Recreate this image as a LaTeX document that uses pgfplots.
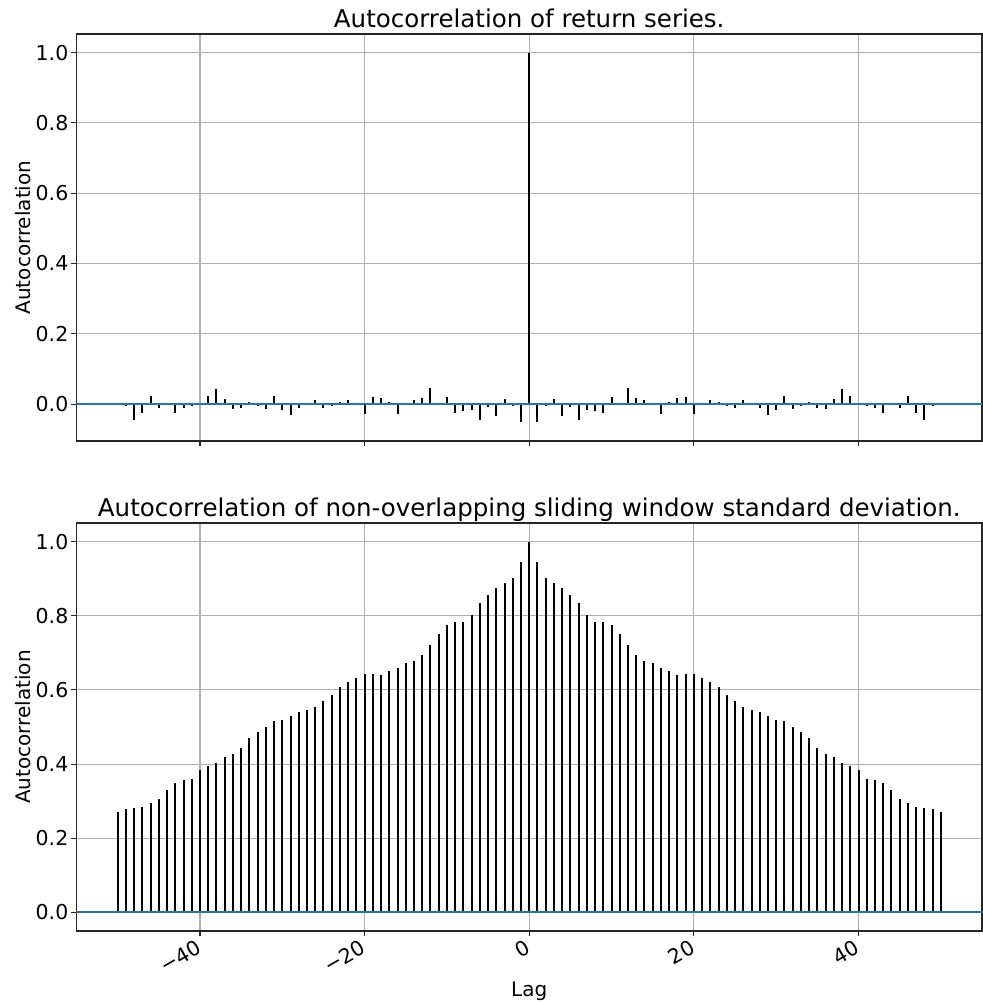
\documentclass[border=0pt]{standalone}
\usepackage{fontspec}
\setmainfont{DejaVu Sans}
\usepackage{pgfplots}
\usepackage{pgfplotstable}
\pgfplotsset{compat=1.18}
\definecolor{mplblue}{HTML}{1F77B4}
\definecolor{gridgray}{HTML}{B0B0B0}

\pgfplotstableread{
lag top bot
-50 0.001 0.270
-49 -0.005 0.279
-48 -0.045 0.281
-47 -0.024 0.283
-46 0.022 0.294
-45 -0.010 0.305
-44 -0.001 0.329
-43 -0.024 0.350
-42 -0.011 0.358
-41 -0.005 0.361
-40 0.001 0.383
-39 0.022 0.394
-38 0.042 0.404
-37 0.014 0.418
-36 -0.015 0.427
-35 -0.010 0.444
-34 0.005 0.470
-33 -0.005 0.487
-32 -0.014 0.501
-31 0.024 0.515
-30 -0.018 0.518
-29 -0.031 0.531
-28 -0.010 0.540
-27 0.001 0.547
-26 0.011 0.553
-25 -0.010 0.571
-24 -0.005 0.585
-23 0.005 0.609
-22 0.011 0.620
-21 0.001 0.631
-20 -0.027 0.642
-19 0.019 0.644
-18 0.016 0.641
-17 0.005 0.650
-16 -0.027 0.660
-15 0.001 0.672
-14 0.011 0.677
-13 0.016 0.693
-12 0.047 0.720
-11 0.002 0.750
-10 0.020 0.776
-9 -0.026 0.784
-8 -0.019 0.784
-7 -0.018 0.802
-6 -0.044 0.835
-5 -0.008 0.855
-4 -0.033 0.874
-3 0.014 0.888
-2 -0.005 0.903
-1 -0.052 0.945
0 1.000 1.000
1 -0.052 0.945
2 -0.005 0.903
3 0.014 0.888
4 -0.033 0.874
5 -0.008 0.855
6 -0.044 0.835
7 -0.018 0.802
8 -0.019 0.784
9 -0.026 0.784
10 0.020 0.776
11 0.002 0.750
12 0.047 0.720
13 0.016 0.693
14 0.011 0.677
15 0.001 0.672
16 -0.027 0.660
17 0.005 0.650
18 0.016 0.641
19 0.019 0.644
20 -0.027 0.642
21 0.001 0.631
22 0.011 0.620
23 0.005 0.609
24 -0.005 0.585
25 -0.010 0.571
26 0.011 0.553
27 0.001 0.547
28 -0.010 0.540
29 -0.031 0.531
30 -0.018 0.518
31 0.024 0.515
32 -0.014 0.501
33 -0.005 0.487
34 0.005 0.470
35 -0.010 0.444
36 -0.015 0.427
37 0.014 0.418
38 0.042 0.404
39 0.022 0.394
40 0.001 0.383
41 -0.005 0.361
42 -0.011 0.358
43 -0.024 0.350
44 -0.001 0.329
45 -0.010 0.305
46 0.022 0.294
47 -0.024 0.283
48 -0.045 0.281
49 -0.005 0.279
50 0.001 0.270
}\acdata

\pgfplotsset{
  acstyle/.style={
    scale only axis,
    width=905.5pt,
    xmin=-55, xmax=55,
    xtick={-40,-20,0,20,40},
    ytick={0,0.2,0.4,0.6,0.8,1.0},
    yticklabels={0.0,0.2,0.4,0.6,0.8,1.0},
    grid=major,
    major grid style={gridgray, line width=1.1pt},
    axis line style={black!85, line width=1.1pt},
    tick align=outside,
    major tick length=5pt,
    tick style={black!85, line width=1.1pt},
    xtick pos=bottom, ytick pos=left,
    tick label style={font=\fontsize{20.5}{24}\selectfont, black},
    yticklabel style={inner sep=0pt, xshift=-3pt},
    label style={font=\fontsize{20}{24}\selectfont},
    title style={font=\fontsize{24.5}{29}\selectfont, anchor=base, at={([yshift=0.5pt]axis description cs:0.5,1)}},
    ylabel={Autocorrelation},
    ylabel style={at={([xshift=-53.5pt]axis description cs:0,0.5)}, anchor=center},
    clip=true,
  },
}

\begin{document}
\begin{tikzpicture}
\path[use as bounding box] (0,0) rectangle (983pt,1005pt);
\begin{axis}[acstyle,
  at={(76.5pt,564pt)}, anchor=south west,
  height=407pt,
  ymin=-0.105, ymax=1.053,
  xticklabels={},
  title={Autocorrelation of return series.},
]
\addplot[ycomb, black, line width=2pt, mark=none] table[x=lag, y=top] {\acdata};
\draw[mplblue, line width=2pt] (axis cs:-55,0) -- (axis cs:55,0);
\end{axis}
\begin{axis}[acstyle,
  at={(76.5pt,74pt)}, anchor=south west,
  height=408pt,
  ymin=-0.05, ymax=1.05,
  xticklabels={−40,−20,0,20,40},
  xticklabel style={xshift=2pt, yshift=-8pt, rotate=30, anchor=east},
  xlabel={Lag},
  xlabel style={at={([yshift=-65pt]axis description cs:0.5,0)}, anchor=base},
  title={Autocorrelation of non-overlapping sliding window standard deviation.},
]
\addplot[ycomb, black, line width=2pt, mark=none] table[x=lag, y=bot] {\acdata};
\draw[mplblue, line width=2pt] (axis cs:-55,0) -- (axis cs:55,0);
\end{axis}
\end{tikzpicture}
\end{document}
